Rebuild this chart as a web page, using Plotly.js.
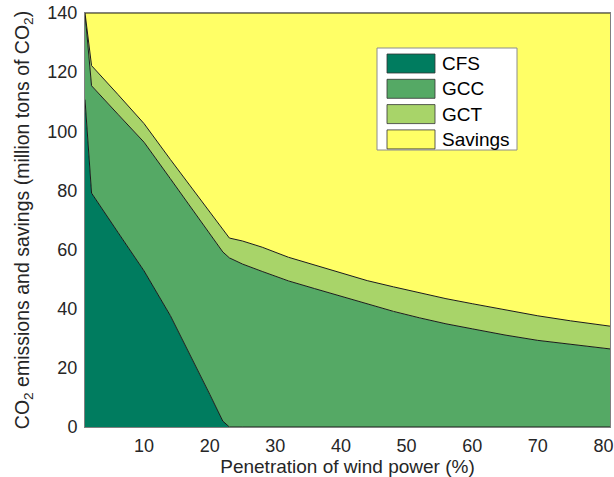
<!DOCTYPE html>
<html><head><meta charset="utf-8">
<script src="https://cdn.plot.ly/plotly-3.0.1.min.js"></script>
<style>html,body{margin:0;padding:0;background:#fff}#chart{width:614px;height:477px}</style>
</head><body><div id="chart"></div>
<script>
// Penetration of wind power (%)
const penetration = [1,2,6,10,14,18,20,22,23,25,28,32,36,40,44,48,52,56,60,65,70,75,81];
// Layer values (million tons of CO2)
const cfs = [110.7,79.1,65.9,52.8,37.7,20.3,11.1,2.0,0,0,0,0,0,0,0,0,0,0,0,0,0,0,0];
const gcc = [29.3,36.3,39.9,43.5,46.3,51.2,54.3,57.2,57.2,55.1,52.6,49.4,46.8,44.2,41.6,39.1,36.9,34.9,33.2,31.1,29.3,27.9,26.4];
const gct = [0,6.8,6.7,6.3,6.5,7.0,7.1,7.3,6.7,7.8,8.2,8.0,7.9,7.9,7.9,8.3,8.5,8.5,8.5,8.6,8.3,8.0,7.7];
const savings = [0,17.8,27.5,37.4,49.5,61.5,67.5,73.5,76.1,77.1,79.2,82.6,85.3,87.9,90.5,92.6,94.6,96.6,98.3,100.3,102.4,104.1,105.9];
const seriesNames = ['CFS','GCC','GCT','Savings'];
const xTicks = [10,20,30,40,50,60,70,80];
const yTicks = [0,20,40,60,80,100,120,140];

const colors = ['#007C5F','#55A965','#A8D469','#FFFF66'];
const values = [cfs, gcc, gct, savings];
const FONT = 'Liberation Sans, Arial, Helvetica, sans-serif';

const traces = values.map((v, i) => ({
  type: 'scatter', mode: 'lines', x: penetration, y: v, name: seriesNames[i],
  stackgroup: 'one', fillcolor: colors[i],
  line: {color: '#1a1a1a', width: 1}, hoverinfo: 'skip', showlegend: false
}));

// Plot area geometry (pixels) for a manual, MATLAB-like legend box
const W = 614, H = 477;
const M = {l: 85, r: 4, t: 13, b: 50};
const pw = W - M.l - M.r, ph = H - M.t - M.b;
const px = x => (x - M.l) / pw;
const py = y => (H - M.b - y) / ph;

const shapes = [{
  type: 'rect', xref: 'paper', yref: 'paper',
  x0: px(377), x1: px(517), y0: py(150), y1: py(48),
  fillcolor: '#ffffff', line: {color: '#8c8c8c', width: 1}
}];
const annotations = [];
seriesNames.forEach((n, i) => {
  const top = 54 + i * 25.3;
  shapes.push({
    type: 'rect', xref: 'paper', yref: 'paper',
    x0: px(387), x1: px(435), y0: py(top + 19), y1: py(top),
    fillcolor: colors[i], line: {color: '#333333', width: 0.8}
  });
  annotations.push({
    xref: 'paper', yref: 'paper', x: px(440), y: py(top + 9.5),
    xanchor: 'left', yanchor: 'middle', text: n, showarrow: false,
    font: {family: FONT, size: 19, color: '#000000'}
  });
});

const axisBase = {
  showline: true, mirror: true, linecolor: '#808080', linewidth: 1,
  ticks: '', showgrid: false, zeroline: false,
  tickfont: {family: FONT, size: 18, color: '#262626'}
};

const layout = {
  width: W, height: H, margin: M,
  paper_bgcolor: '#ffffff', plot_bgcolor: '#ffffff',
  showlegend: false,
  xaxis: Object.assign({}, axisBase, {
    range: [1, 81], tickvals: xTicks, ticklabelstandoff: 2,
    title: {text: 'Penetration of wind power (%)', font: {family: FONT, size: 19, color: '#262626'}, standoff: 4}
  }),
  yaxis: Object.assign({}, axisBase, {
    range: [0, 140], tickvals: yTicks, ticklabelstandoff: 3,
    title: {text: 'CO<sub>2</sub> emissions and savings (million tons of CO<sub>2</sub>)', font: {family: FONT, size: 19.5, color: '#262626'}, standoff: 12}
  }),
  shapes: shapes, annotations: annotations
};

Plotly.newPlot('chart', traces, layout, {staticPlot: true, displayModeBar: false});
</script>
</body></html>
